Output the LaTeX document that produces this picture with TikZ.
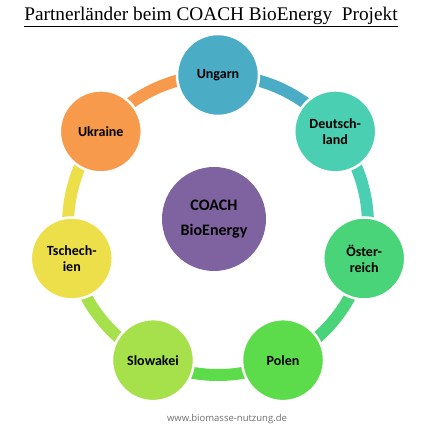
\documentclass[tikz,border=0pt]{standalone}
\usepackage{fontspec}
\setmainfont{Carlito}
\newfontfamily\titlefont{Liberation Serif}
\newfontfamily\webfont{Open Sans}
\usetikzlibrary{positioning, backgrounds}
\definecolor{ungarn}{HTML}{4BACC6}
\definecolor{deutsch}{HTML}{4BCFB2}
\definecolor{oester}{HTML}{4AD47A}
\definecolor{polen}{HTML}{5DDC4B}
\definecolor{slowak}{HTML}{A6E04A}
\definecolor{tschech}{HTML}{EDDF4A}
\definecolor{ukraine}{HTML}{F79A4B}
\definecolor{coach}{HTML}{7F63A1}
\definecolor{web}{HTML}{6F6F6F}

\begin{document}
\begin{tikzpicture}[x=1pt, y=1pt,
   land/.style={circle, draw=white, line width=2.5pt, minimum size=82pt,
                inner sep=0pt, align=center,
                font=\bfseries\fontsize{14}{16}\selectfont},
   ring/.style={line width=12pt, bend left=25.7, looseness=0.9}]

  \useasboundingbox (-218,225) rectangle (212,-205);

  \node[font=\titlefont\fontsize{19.3}{22}\selectfont] (title) at (-7,208)
       {\underline{Partnerländer beim COACH BioEnergy~ Projekt}};

  \node[circle, fill=coach, minimum size=104pt, inner sep=0pt, align=center,
        font=\bfseries\fontsize{16}{25}\selectfont] (coach) at (-4,6)
       {COACH\\BioEnergy};

  \node[land, fill=ungarn]  (ung) at (90:150)     {Ungarn};
  \node[land, fill=deutsch] (deu) at (38.6:150)   {Deutsch-\\land};
  \node[land, fill=oester]  (oes) at (-12.9:150)  {Öster-\\reich};
  \node[land, fill=polen]   (pol) at (-64.3:150)  {Polen};
  \node[land, fill=slowak]  (slo) at (-115.7:150) {Slowakei};
  \node[land, fill=tschech] (tsc) at (-167.1:150) {Tschech-\\ien};
  \node[land, fill=ukraine] (ukr) at (141.4:150)  {Ukraine};

  \node[font=\webfont\fontsize{9.5}{11}\selectfont, text=web] (web) at (9,-194)
       {www.biomasse-nutzung.de};

  \begin{scope}[on background layer]
    \draw[ring, ungarn]  (ung.center) to (deu.center);
    \draw[ring, deutsch] (deu.center) to (oes.center);
    \draw[ring, oester]  (oes.center) to (pol.center);
    \draw[ring, polen]   (pol.center) to (slo.center);
    \draw[ring, slowak]  (slo.center) to (tsc.center);
    \draw[ring, tschech] (tsc.center) to (ukr.center);
    \draw[ring, ukraine] (ukr.center) to (ung.center);
  \end{scope}
\end{tikzpicture}
\end{document}
